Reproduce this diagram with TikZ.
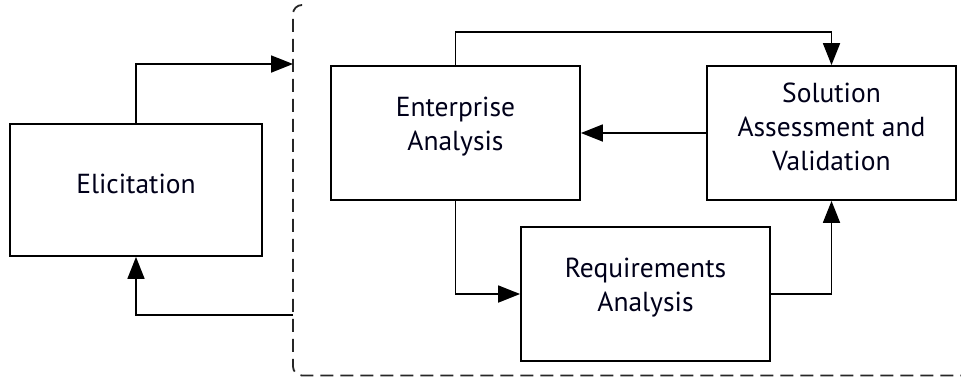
\documentclass[tikz,border=0pt]{standalone}
\usepackage{fontspec}
\setmainfont{PT Sans}
\usetikzlibrary{arrows.meta}
\begin{document}
\begin{tikzpicture}[x=1pt,y=-1pt,
  box/.style={draw=black,line width=1.8pt,minimum width=249pt,minimum height=134pt,inner sep=0pt},
  txt/.style={align=center,font=\fontsize{27.5}{34}\selectfont,text=black!90!blue,inner sep=0pt,yshift=6pt},
  conn/.style={draw=black,line width=1.8pt,-{Triangle[length=22pt,width=17pt]}},
  fence/.style={draw=black!85,line width=1.8pt,dash pattern=on 13pt off 7pt,rounded corners=9pt}]
\useasboundingbox (0,0) rectangle (961,376);
\node[box,minimum width=252pt,minimum height=132pt,label={[txt]center:Elicitation}] (eli) at (136,190) {};
\node[box,label={[txt]center:Enterprise\\Analysis}] (ent) at (455.5,133) {};
\node[box,label={[txt]center:Solution\\Assessment and\\Validation}] (sol) at (831.5,133) {};
\node[box,label={[txt]center:Requirements\\Analysis}] (req) at (645.5,294) {};
\coordinate (ftop) at (301,5);
\coordinate (fcorner1) at (293,5);
\coordinate (fcorner2) at (293,375.5);
\coordinate (fend) at (961,375.5);
\coordinate (dtop) at (293,64);
\coordinate (dbot) at (293,315);
\draw[fence] (ftop) -- (fcorner1) -- (fcorner2) -- (fend);
\draw[conn] (eli.north) |- (dtop);
\draw[conn] (dbot) -| (eli.south);
\draw[conn] (ent.north) -- ++(0,-33) -| (sol.north);
\draw[conn] (sol.west) -- (ent.east);
\draw[conn] (ent.south) |- (req.west);
\draw[conn] (req.east) -| (sol.south);
\end{tikzpicture}
\end{document}
